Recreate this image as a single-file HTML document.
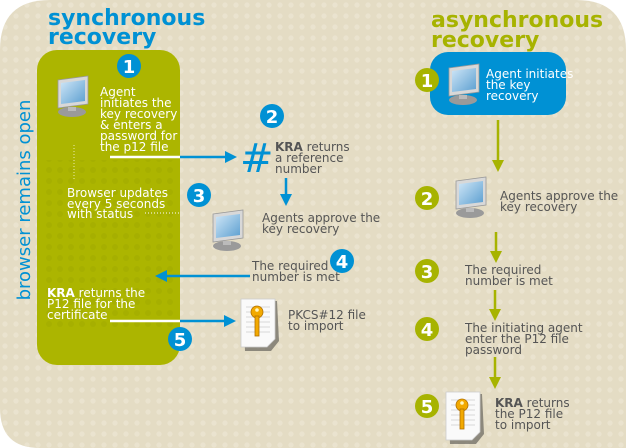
<!DOCTYPE html>
<html><head><meta charset="utf-8"><style>
html,body{margin:0;padding:0;background:#fff;}
svg{display:block;font-family:"DejaVu Sans","Liberation Sans",sans-serif;}
</style></head><body>
<svg width="626" height="448" viewBox="0 0 626 448" xmlns="http://www.w3.org/2000/svg">
<defs>
<pattern id="dots" width="11" height="11" patternUnits="userSpaceOnUse"><circle cx="5" cy="5" r="2.6" fill="#ebe5d2"/></pattern>
<pattern id="gdots" width="11" height="11" patternUnits="userSpaceOnUse"><circle cx="5" cy="5" r="3" fill="#a3ad00"/></pattern>
<marker id="ab" markerWidth="12" markerHeight="12" refX="9" refY="6" orient="auto" markerUnits="userSpaceOnUse"><path d="M0,0 L12,6 L0,12 z" fill="#0091d4"/></marker>
<marker id="ag" markerWidth="12" markerHeight="12" refX="6" refY="6" orient="auto" markerUnits="userSpaceOnUse"><path d="M0,0 L12,6 L0,12 z" fill="#a7b300"/></marker>
<linearGradient id="scr" x1="0" y1="0" x2="1" y2="1"><stop offset="0" stop-color="#cfe6f7"/><stop offset="1" stop-color="#5c9fd0"/></linearGradient>
<g id="mon">
<ellipse cx="18" cy="36" rx="14" ry="5" fill="#9a9a9a"/>
<path d="M4,4 L34,0 L34,28 L4,32 z" fill="#d8d8d8" stroke="#999" stroke-width="0.8"/>
<path d="M7,7 L31,4 L31,25 L7,28 z" fill="url(#scr)"/>
<rect x="14" y="31" width="8" height="4" fill="#bbb"/>
</g>
<g id="doc">
<path d="M0,0 L34,0 L36,40 L28,50 L2,50 z" fill="#333" opacity="0.5" transform="translate(2,2)"/>
<path d="M0,0 L34,0 L34,40 L26,48 L0,48 z" fill="#fafafa" stroke="#ccc" stroke-width="0.8"/>
<g stroke="#ccc" stroke-width="0.8"><line x1="5" y1="8" x2="29" y2="8"/><line x1="5" y1="13" x2="29" y2="13"/><line x1="5" y1="18" x2="29" y2="18"/><line x1="5" y1="23" x2="29" y2="23"/><line x1="5" y1="28" x2="29" y2="28"/><line x1="5" y1="33" x2="29" y2="33"/></g>
<circle cx="16" cy="13" r="6" fill="#f2a900" stroke="#b07000" stroke-width="0.8"/>
<rect x="14" y="17" width="4" height="20" fill="#f2a900" stroke="#b07000" stroke-width="0.8"/>
<circle cx="16" cy="11" r="1.8" fill="#fff6c0"/>
</g>
</defs>
<path d="M50,0 H576 Q626,0 626,50 V448 H40 Q0,448 0,408 V50 Q0,0 50,0 z" fill="#e4dcc4"/>
<path d="M50,0 H576 Q626,0 626,50 V448 H40 Q0,448 0,408 V50 Q0,0 50,0 z" fill="url(#dots)" opacity="0.8"/>

<!-- synchronous -->
<text x="48" y="25" font-size="22" font-weight="bold" fill="#0091d4">synchronous</text>
<text x="48" y="44" font-size="22" font-weight="bold" fill="#0091d4">recovery</text>
<rect x="37" y="50" width="143" height="315" rx="20" fill="#acb500"/>
<rect x="45" y="160" width="130" height="170" fill="url(#gdots)" opacity="0.7"/>
<text transform="translate(30,200) rotate(-90)" text-anchor="middle" font-size="18" fill="#0091d4">browser remains open</text>

<circle cx="129" cy="66" r="12" fill="#0091d4"/><text x="129" y="73" text-anchor="middle" font-size="18" font-weight="bold" fill="#fff">1</text>
<use href="#mon" x="54" y="76"/>
<g font-size="12" fill="#fff">
<text x="100" y="96">Agent</text><text x="100" y="107">initiates the</text><text x="100" y="118">key recovery</text><text x="100" y="129">&amp; enters a</text><text x="100" y="140">password for</text><text x="100" y="151">the p12 file</text>
<text x="67" y="197">Browser updates</text><text x="67" y="208">every 5 seconds</text><text x="67" y="218">with status</text>
<text x="47" y="297"><tspan font-weight="bold">KRA</tspan> returns the</text><text x="47" y="308">P12 file for the</text><text x="47" y="319">certificate</text>
</g>
<line x1="74" y1="145" x2="74" y2="180" stroke="#e8ecb0" stroke-width="1" stroke-dasharray="1,2"/>
<line x1="145" y1="213" x2="180" y2="213" stroke="#fff" stroke-width="1" stroke-dasharray="1,2"/>
<line x1="110" y1="157" x2="180" y2="157" stroke="#fff" stroke-width="2.5"/>
<line x1="180" y1="157" x2="234" y2="157" stroke="#0091d4" stroke-width="2.5" marker-end="url(#ab)"/>
<text x="240" y="172" font-size="40" fill="#0091d4">#</text>
<circle cx="272" cy="116" r="12" fill="#0091d4"/><text x="272" y="123" text-anchor="middle" font-size="18" font-weight="bold" fill="#fff">2</text>
<g font-size="12" fill="#555">
<text x="275" y="151"><tspan font-weight="bold">KRA</tspan> returns</text><text x="275" y="162">a reference</text><text x="275" y="173">number</text>
<text x="262" y="222">Agents approve the</text><text x="262" y="233">key recovery</text>
<text x="252" y="270">The required</text><text x="252" y="281">number is met</text>
<text x="288" y="319">PKCS#12 file</text><text x="288" y="330">to import</text>
</g>
<line x1="286" y1="178" x2="286" y2="203" stroke="#0091d4" stroke-width="2.5" marker-end="url(#ab)"/>
<circle cx="199" cy="195" r="12" fill="#0091d4"/><text x="199" y="202" text-anchor="middle" font-size="18" font-weight="bold" fill="#fff">3</text>
<use href="#mon" x="209" y="210"/>
<circle cx="342" cy="261" r="12" fill="#0091d4"/><text x="342" y="268" text-anchor="middle" font-size="18" font-weight="bold" fill="#fff">4</text>
<line x1="250" y1="276" x2="158" y2="276" stroke="#0091d4" stroke-width="2.5" marker-end="url(#ab)"/>
<line x1="110" y1="321" x2="180" y2="321" stroke="#fff" stroke-width="2.5"/>
<line x1="180" y1="321" x2="233" y2="321" stroke="#0091d4" stroke-width="2.5" marker-end="url(#ab)"/>
<circle cx="180" cy="339" r="12" fill="#0091d4"/><text x="180" y="346" text-anchor="middle" font-size="18" font-weight="bold" fill="#fff">5</text>
<use href="#doc" x="241" y="299"/>

<!-- asynchronous -->
<text x="431" y="27" font-size="22" font-weight="bold" fill="#a7b300">asynchronous</text>
<text x="431" y="47" font-size="22" font-weight="bold" fill="#a7b300">recovery</text>
<rect x="430" y="52" width="136" height="63" rx="18" fill="#0091d4"/>
<use href="#mon" x="445" y="64"/>
<g font-size="12" fill="#fff"><text x="486" y="78">Agent initiates</text><text x="486" y="89">the key</text><text x="486" y="100">recovery</text></g>
<g fill="#a7b300">
<circle cx="427" cy="80" r="12"/><circle cx="427" cy="198" r="12"/><circle cx="427" cy="271" r="12"/><circle cx="427" cy="329" r="12"/><circle cx="427" cy="406" r="12"/>
</g>
<g font-size="18" font-weight="bold" fill="#fff" text-anchor="middle">
<text x="427" y="87">1</text><text x="427" y="205">2</text><text x="427" y="278">3</text><text x="427" y="336">4</text><text x="427" y="413">5</text>
</g>
<g stroke="#a7b300" stroke-width="2.5">
<line x1="498" y1="120" x2="498" y2="166" marker-end="url(#ag)"/>
<line x1="496" y1="232" x2="496" y2="257" marker-end="url(#ag)"/>
<line x1="495" y1="290" x2="495" y2="315" marker-end="url(#ag)"/>
<line x1="495" y1="357" x2="495" y2="383" marker-end="url(#ag)"/>
</g>
<use href="#mon" x="452" y="177"/>
<g font-size="12" fill="#555">
<text x="500" y="200">Agents approve the</text><text x="500" y="211">key recovery</text>
<text x="465" y="274">The required</text><text x="465" y="285">number is met</text>
<text x="465" y="332">The initiating agent</text><text x="465" y="343">enter the P12 file</text><text x="465" y="354">password</text>
<text x="495" y="407"><tspan font-weight="bold">KRA</tspan> returns</text><text x="495" y="418">the P12 file</text><text x="495" y="429">to import</text>
</g>
<use href="#doc" x="446" y="392"/>
</svg>
</body></html>
